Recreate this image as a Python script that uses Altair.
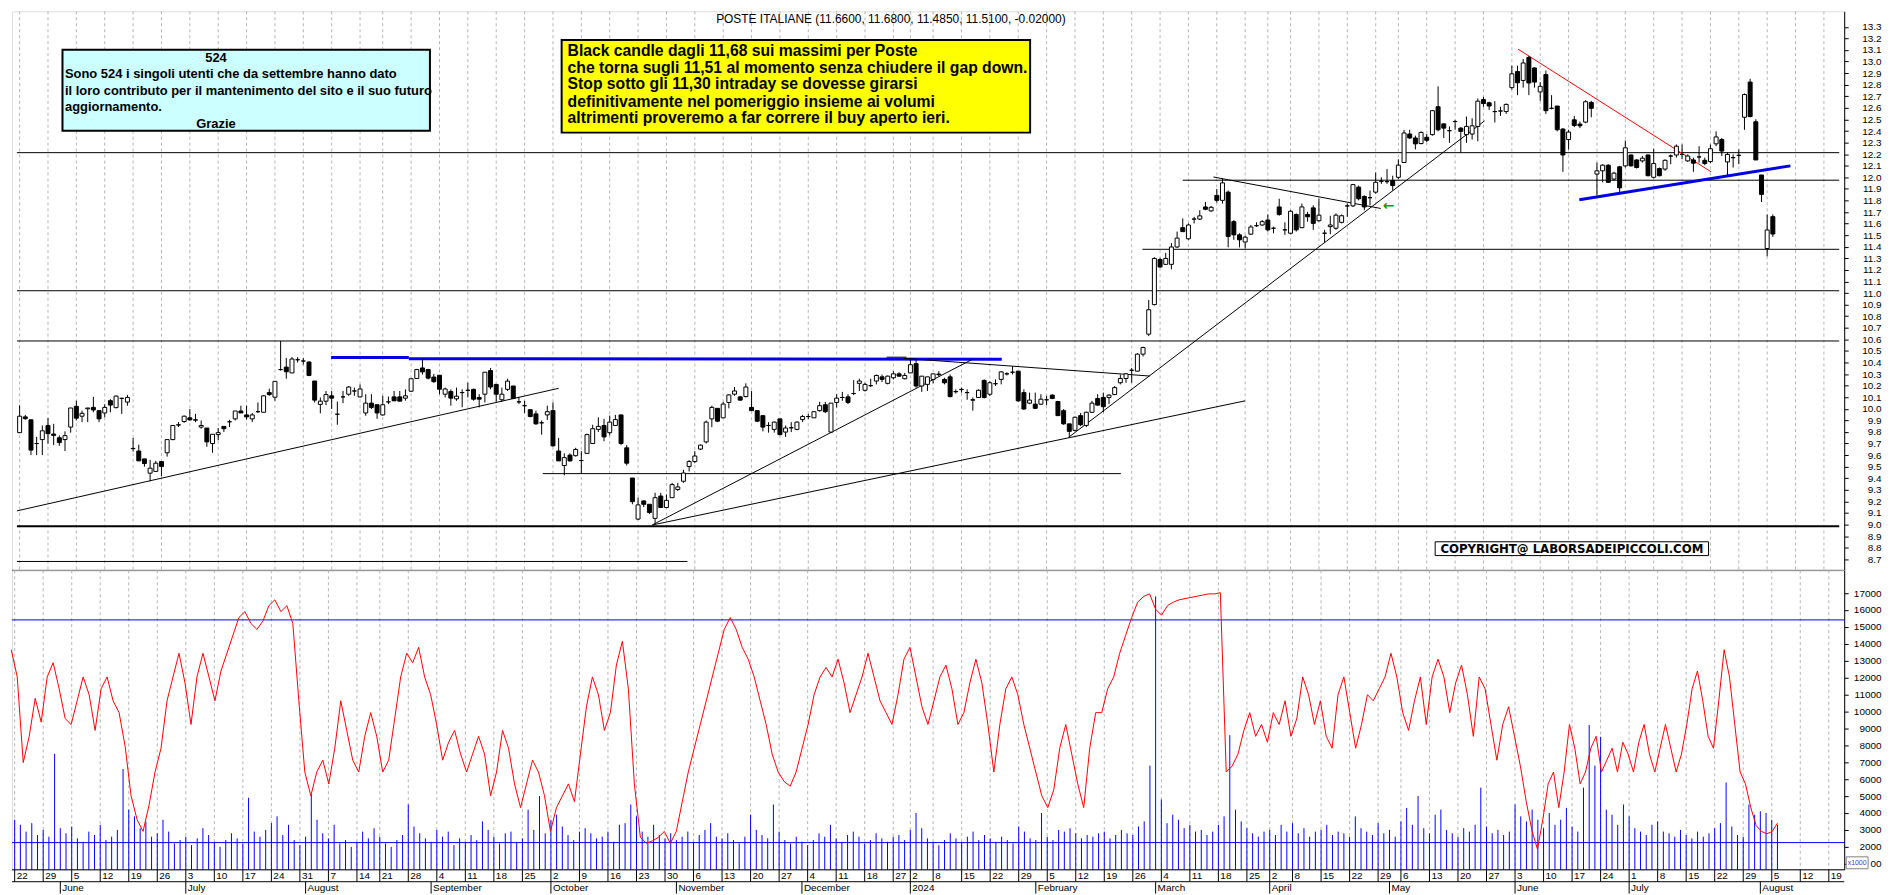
import altair as alt
import numpy as np
import pandas as pd

# ---------------- data ----------------
OPEN = [
 9.794, 9.93, 9.905, 9.70, 9.734, 9.856, 9.782, 9.75, 9.734, 9.842,
 10.021, 9.936, 10.0, 10.012, 9.984, 9.964, 10.07, 10.01, 10.09, 10.058,
 9.658, 9.635, 9.567, 9.444, 9.459, 9.544, 9.62, 9.734, 9.86, 9.89,
 9.922, 9.905, 9.842, 9.834, 9.70, 9.777, 9.848, 9.888, 9.913, 9.981,
 9.947, 9.913, 9.975, 9.97, 10.14, 10.1, 10.339, 10.36, 10.31, 10.424,
 10.413, 10.404, 10.24, 10.038, 10.066, 10.112, 9.953, 10.103, 10.126, 10.154,
 10.103, 9.964, 10.049, 10.035, 9.947, 10.06, 10.103, 10.103, 10.092, 10.152,
 10.262, 10.353, 10.339, 10.274, 10.29, 10.126, 10.149, 10.086, 10.14, 10.16,
 10.168, 10.098, 10.126, 10.33, 10.211, 10.078, 10.168, 10.197, 10.06, 10.027,
 9.992, 9.956, 9.879, 9.947, 9.984, 9.635, 9.51, 9.6, 9.595, 9.553,
 9.615, 9.7, 9.822, 9.856, 9.794, 9.856, 9.947, 9.663, 9.402, 9.047,
 9.204, 9.175, 9.053, 9.246, 9.147, 9.232, 9.303, 9.374, 9.501, 9.544,
 9.652, 9.714, 9.913, 10.004, 9.922, 10.055, 10.126, 10.103, 10.106, 10.012,
 9.984, 9.941, 9.856, 9.822, 9.913, 9.799, 9.836, 9.822, 9.907, 9.933,
 9.922, 9.984, 10.035, 9.799, 10.055, 10.098, 10.103, 10.132, 10.22, 10.16,
 10.2, 10.24, 10.276, 10.22, 10.268, 10.302, 10.26, 10.31, 10.39, 10.197,
 10.211, 10.254, 10.30, 10.254, 10.276, 10.15, 10.168, 10.14, 10.078, 10.098,
 10.245, 10.126, 10.217, 10.254, 10.302, 10.316, 10.325, 10.14, 10.049, 10.04,
 10.04, 10.078, 10.118, 10.063, 9.984, 9.87, 9.814, 9.941, 9.856, 9.97,
 10.089, 10.098, 10.098, 10.123, 10.225, 10.262, 10.333, 10.325, 10.472, 10.645,
 10.9, 11.29, 11.248, 11.248, 11.398, 11.565, 11.469, 11.639, 11.639, 11.744,
 11.71, 11.844, 11.801, 11.872, 11.617, 11.503, 11.441, 11.509, 11.582, 11.588,
 11.631, 11.56, 11.744, 11.546, 11.517, 11.679, 11.565, 11.679, 11.736, 11.625,
 11.517, 11.574, 11.56, 11.611, 11.753, 11.753, 11.915, 11.835, 11.824, 11.872,
 11.966, 11.963, 11.972, 12.0, 12.128, 12.374, 12.34, 12.292, 12.346, 12.369,
 12.61, 12.462, 12.403, 12.482, 12.425, 12.369, 12.374, 12.44, 12.672, 12.644,
 12.568, 12.573, 12.568, 12.775, 12.914, 12.837, 13.036, 12.945, 12.738, 12.888,
 12.596, 12.616, 12.417, 12.326, 12.497, 12.46, 12.477, 12.647, 12.028, 12.056,
 12.105, 11.985, 12.091, 12.099, 12.193, 12.15, 12.142, 12.193, 12.0, 12.076,
 12.071, 12.184, 12.193, 12.198, 12.142, 12.15, 12.176, 12.147, 12.136, 12.289,
 12.326, 12.133, 12.17, 12.19, 12.519, 12.823, 12.48, 12.02, 11.385, 11.66,
]
HIGH = [
 10.03, 9.947, 9.905, 9.757, 9.856, 9.92, 9.87, 9.77, 9.805, 10.007,
 10.07, 9.984, 10.007, 10.103, 9.984, 10.04, 10.083, 10.115, 10.097, 10.12,
 9.748, 9.69, 9.567, 9.558, 9.55, 9.544, 9.734, 9.856, 9.885, 9.942,
 9.998, 9.956, 9.899, 9.834, 9.78, 9.834, 9.848, 9.905, 9.981, 10.027,
 10.027, 9.964, 10.055, 10.118, 10.174, 10.237, 10.586, 10.44, 10.447, 10.447,
 10.438, 10.41, 10.24, 10.098, 10.154, 10.154, 10.063, 10.154, 10.197, 10.183,
 10.211, 10.126, 10.126, 10.035, 10.112, 10.106, 10.154, 10.154, 10.168, 10.26,
 10.345, 10.43, 10.345, 10.302, 10.29, 10.183, 10.168, 10.183, 10.168, 10.225,
 10.174, 10.126, 10.316, 10.353, 10.211, 10.183, 10.26, 10.197, 10.103, 10.069,
 9.998, 9.984, 9.899, 10.027, 10.055, 9.748, 9.615, 9.615, 9.663, 9.635,
 9.785, 9.862, 9.927, 9.913, 9.941, 9.947, 9.947, 9.686, 9.402, 9.232,
 9.209, 9.175, 9.274, 9.274, 9.26, 9.36, 9.36, 9.473, 9.558, 9.635,
 9.692, 9.899, 10.027, 10.004, 10.06, 10.126, 10.188, 10.112, 10.22, 10.154,
 9.984, 9.941, 9.885, 9.891, 9.913, 9.856, 9.885, 9.891, 9.947, 9.956,
 9.975, 10.06, 10.06, 10.049, 10.126, 10.146, 10.126, 10.248, 10.26, 10.225,
 10.26, 10.296, 10.296, 10.288, 10.325, 10.316, 10.31, 10.438, 10.424, 10.282,
 10.276, 10.302, 10.325, 10.268, 10.296, 10.168, 10.183, 10.168, 10.098, 10.168,
 10.254, 10.239, 10.254, 10.325, 10.316, 10.367, 10.325, 10.168, 10.14, 10.14,
 10.126, 10.112, 10.126, 10.069, 9.998, 9.87, 9.933, 9.964, 9.975, 10.069,
 10.126, 10.14, 10.126, 10.197, 10.296, 10.31, 10.353, 10.48, 10.537, 10.941,
 11.31, 11.304, 11.347, 11.432, 11.531, 11.645, 11.602, 11.659, 11.716, 11.787,
 11.753, 11.9, 11.991, 11.886, 11.631, 11.517, 11.497, 11.588, 11.611, 11.631,
 11.679, 11.574, 11.815, 11.611, 11.716, 11.688, 11.773, 11.702, 11.758, 11.815,
 11.546, 11.668, 11.688, 11.679, 11.773, 11.943, 11.929, 11.844, 11.886, 12.042,
 12.0, 12.071, 12.014, 12.156, 12.41, 12.411, 12.36, 12.397, 12.374, 12.582,
 12.786, 12.462, 12.44, 12.496, 12.434, 12.525, 12.51, 12.681, 12.695, 12.653,
 12.658, 12.61, 12.638, 12.965, 12.965, 13.022, 13.05, 12.951, 12.823, 12.922,
 12.71, 12.616, 12.425, 12.411, 12.531, 12.482, 12.667, 12.661, 12.127, 12.113,
 12.113, 12.048, 12.099, 12.318, 12.198, 12.156, 12.184, 12.198, 12.247, 12.085,
 12.156, 12.198, 12.284, 12.284, 12.198, 12.17, 12.269, 12.17, 12.284, 12.397,
 12.34, 12.213, 12.198, 12.241, 12.724, 12.851, 12.502, 12.02, 11.679, 11.68,
]
LOW = [
 9.79, 9.905, 9.60, 9.60, 9.60, 9.70, 9.686, 9.68, 9.635, 9.794,
 9.90, 9.885, 9.885, 9.97, 9.885, 9.927, 9.97, 10.004, 9.956, 10.027,
 9.63, 9.55, 9.50, 9.374, 9.459, 9.416, 9.587, 9.728, 9.842, 9.879,
 9.899, 9.885, 9.828, 9.672, 9.62, 9.728, 9.80, 9.842, 9.899, 9.964,
 9.907, 9.885, 9.964, 9.97, 10.112, 10.07, 10.33, 10.26, 10.31, 10.40,
 10.382, 10.282, 10.055, 9.961, 10.032, 9.998, 9.862, 10.049, 10.112, 10.112,
 10.098, 9.94, 9.998, 9.913, 9.94, 10.04, 10.069, 10.066, 10.07, 10.146,
 10.262, 10.296, 10.254, 10.225, 10.126, 10.098, 10.027, 10.069, 10.013, 10.098,
 10.07, 10.012, 10.055, 10.168, 10.061, 10.061, 10.154, 10.083, 10.04, 9.964,
 9.927, 9.862, 9.777, 9.904, 9.672, 9.55, 9.425, 9.544, 9.587, 9.439,
 9.615, 9.7, 9.80, 9.72, 9.771, 9.856, 9.686, 9.51, 9.175, 9.039,
 9.152, 9.09, 9.005, 9.147, 9.147, 9.232, 9.289, 9.36, 9.459, 9.53,
 9.643, 9.7, 9.842, 9.885, 9.922, 10.004, 10.112, 10.069, 10.098, 9.984,
 9.885, 9.805, 9.794, 9.794, 9.771, 9.757, 9.799, 9.814, 9.885, 9.913,
 9.922, 9.975, 9.964, 9.794, 10.012, 10.069, 10.04, 10.118, 10.154, 10.149,
 10.188, 10.211, 10.231, 10.211, 10.254, 10.276, 10.254, 10.31, 10.183, 10.146,
 10.154, 10.22, 10.282, 10.211, 10.098, 10.132, 10.14, 10.078, 9.984, 10.098,
 10.089, 10.112, 10.197, 10.211, 10.288, 10.296, 10.06, 9.992, 10.04, 9.998,
 10.032, 10.032, 10.083, 9.941, 9.862, 9.757, 9.805, 9.85, 9.842, 9.964,
 10.027, 9.97, 10.04, 10.118, 10.211, 10.225, 10.225, 10.325, 10.452, 10.628,
 10.893, 11.219, 11.242, 11.205, 11.39, 11.526, 11.46, 11.602, 11.631, 11.716,
 11.702, 11.781, 11.773, 11.395, 11.46, 11.395, 11.384, 11.503, 11.571, 11.58,
 11.531, 11.517, 11.668, 11.503, 11.509, 11.531, 11.56, 11.616, 11.546, 11.617,
 11.432, 11.509, 11.546, 11.602, 11.659, 11.744, 11.801, 11.716, 11.758, 11.858,
 11.943, 11.943, 11.886, 11.986, 12.128, 12.332, 12.241, 12.284, 12.303, 12.36,
 12.397, 12.34, 12.298, 12.411, 12.213, 12.298, 12.326, 12.312, 12.61, 12.582,
 12.474, 12.531, 12.548, 12.758, 12.71, 12.775, 12.71, 12.775, 12.661, 12.548,
 12.587, 12.397, 12.048, 12.241, 12.434, 12.425, 12.468, 12.519, 11.843, 11.957,
 11.951, 11.971, 11.872, 12.085, 12.093, 12.076, 12.127, 12.008, 11.991, 12.008,
 12.057, 12.113, 12.17, 12.156, 12.133, 12.048, 12.127, 12.105, 12.122, 12.269,
 12.184, 12.014, 12.085, 12.113, 12.411, 12.519, 12.15, 11.787, 11.318, 11.485,
]
CLOSE = [
 9.936, 9.915, 9.643, 9.70, 9.81, 9.785, 9.77, 9.708, 9.768, 10.007,
 9.919, 9.961, 10.007, 9.99, 9.913, 10.012, 10.032, 10.11, 10.09, 10.098,
 9.656, 9.55, 9.527, 9.487, 9.53, 9.501, 9.734, 9.856, 9.862, 9.936,
 9.904, 9.902, 9.856, 9.714, 9.78, 9.794, 9.828, 9.888, 9.981, 9.964,
 9.93, 9.947, 9.975, 10.112, 10.123, 10.237, 10.339, 10.32, 10.43, 10.424,
 10.413, 10.288, 10.075, 10.066, 10.123, 10.092, 9.953, 10.103, 10.188, 10.154,
 10.171, 10.049, 10.012, 9.964, 10.035, 10.06, 10.069, 10.066, 10.112, 10.26,
 10.339, 10.319, 10.265, 10.234, 10.169, 10.171, 10.092, 10.109, 10.14, 10.16,
 10.083, 10.083, 10.316, 10.188, 10.126, 10.126, 10.239, 10.089, 10.06, 10.027,
 9.933, 9.87, 9.879, 9.975, 9.68, 9.55, 9.578, 9.55, 9.649, 9.553,
 9.777, 9.828, 9.848, 9.757, 9.885, 9.907, 9.7, 9.53, 9.198, 9.17,
 9.175, 9.104, 9.232, 9.147, 9.209, 9.345, 9.325, 9.445, 9.544, 9.592,
 9.686, 9.885, 10.012, 9.893, 10.041, 10.12, 10.154, 10.075, 10.188, 9.984,
 9.893, 9.842, 9.856, 9.885, 9.777, 9.834, 9.836, 9.885, 9.933, 9.933,
 9.975, 10.027, 9.975, 10.049, 10.092, 10.098, 10.055, 10.132, 10.24, 10.211,
 10.2, 10.288, 10.254, 10.282, 10.302, 10.282, 10.288, 10.381, 10.197, 10.282,
 10.276, 10.302, 10.295, 10.225, 10.106, 10.147, 10.166, 10.14, 10.075, 10.16,
 10.098, 10.225, 10.217, 10.319, 10.302, 10.316, 10.069, 9.998, 10.075, 10.004,
 10.083, 10.078, 10.089, 9.941, 9.87, 9.805, 9.927, 9.862, 9.97, 10.049,
 10.032, 10.018, 10.118, 10.183, 10.262, 10.302, 10.333, 10.472, 10.529, 10.856,
 11.299, 11.225, 11.299, 11.398, 11.475, 11.531, 11.588, 11.639, 11.667, 11.724,
 11.741, 11.801, 11.952, 11.489, 11.503, 11.46, 11.483, 11.571, 11.582, 11.617,
 11.546, 11.56, 11.679, 11.546, 11.707, 11.546, 11.744, 11.659, 11.602, 11.673,
 11.517, 11.588, 11.673, 11.668, 11.753, 11.937, 11.815, 11.744, 11.824, 11.957,
 11.966, 11.963, 11.929, 12.105, 12.383, 12.34, 12.289, 12.388, 12.32, 12.576,
 12.411, 12.425, 12.403, 12.482, 12.397, 12.44, 12.445, 12.658, 12.638, 12.616,
 12.568, 12.573, 12.63, 12.894, 12.817, 12.988, 12.815, 12.823, 12.786, 12.576,
 12.596, 12.411, 12.193, 12.391, 12.448, 12.445, 12.653, 12.596, 12.056, 12.105,
 11.957, 12.036, 11.909, 12.255, 12.099, 12.085, 12.165, 12.014, 12.119, 12.014,
 12.147, 12.184, 12.269, 12.198, 12.184, 12.122, 12.176, 12.119, 12.247, 12.349,
 12.227, 12.198, 12.17, 12.19, 12.715, 12.525, 12.15, 11.852, 11.545, 11.51,
]
VOLUME = [
 3600, 3300, 2900, 3400, 2700, 3000, 2600, 7500, 3100, 2800,
 3200, 2500, 2300, 2900, 2700, 3300, 2400, 2600, 3000, 6600,
 4200, 3800, 3100, 3500, 2600, 2800, 3600, 2900, 2200, 2400,
 2600, 2100, 2500, 3100, 2700, 2300, 2000, 2400, 2800, 2500,
 2200, 4900, 2900, 2600, 3000, 3400, 3800, 2700, 3300, 2400,
 2100, 2600, 5100, 3600, 2800, 2500, 3300, 2200, 2400, 2000,
 2300, 2900, 2500, 3100, 2600, 2200, 2000, 2400, 2700, 4500,
 3200, 2800, 2500, 2300, 3000, 2600, 2900, 2100, 2500, 2300,
 2700, 2400, 3500, 3000, 2600, 2200, 2800, 2900, 2300, 2500,
 4200, 3000, 5000, 2800, 3600, 3900, 3200, 2700, 2400, 2900,
 3100, 2800, 2500, 2600, 2900, 2300, 3300, 3400, 4500, 3800,
 2900, 2600, 3300, 2700, 2500, 2800, 2400, 2600, 2900, 2300,
 2700, 3000, 3400, 2600, 2500, 2800, 2400, 2200, 2600, 3900,
 3000, 2700, 2500, 4500, 2900, 2400, 2200, 2600, 2300, 2100,
 2400, 2800, 2600, 3300, 2500, 2300, 2700, 2900, 2600, 2200,
 2400, 2800, 2500, 2300, 2600, 2700, 2400, 3000, 4000, 3100,
 2500, 2300, 2100, 2400, 2800, 2500, 2300, 2600, 2900, 2400,
 2700, 2500, 2300, 2600, 2400, 2200, 3200, 2900, 2500, 2400,
 4000, 2600, 2400, 3000, 2900, 3100, 2800, 2500, 2700, 2600,
 2800, 2900, 2500, 2700, 3000, 2800, 2700, 3200, 3500, 6800,
 16800, 4800, 3400, 3900, 3600, 3100, 3300, 2900, 3000, 2700,
 2900, 3300, 3800, 8600, 4200, 3500, 3100, 2800, 2600, 2900,
 3000, 2700, 3300, 2900, 3400, 2800, 3100, 2600, 2900, 3000,
 3300, 2700, 2900, 2800, 2600, 3800, 3100, 2900, 2700, 3400,
 2800, 3000, 2600, 3500, 4300, 3300, 5000, 3100, 2800, 3900,
 4200, 3000, 2800, 2600, 3100, 2900, 3300, 5500, 3200, 2800,
 3000, 2700, 2900, 4500, 3800, 3500, 4200, 3600, 3100, 4000,
 3300, 3600, 4300, 3200, 2900, 5500, 9200, 6800, 8500, 4200,
 3900, 3300, 4500, 3800, 3100, 2900, 2700, 3300, 3500, 2900,
 2800, 2600, 3000, 2700, 2500, 2900, 2600, 2800, 3100, 3400,
 5800, 3200, 2700, 2600, 4500, 3900, 4100, 4000, 3600, 3300,
]
# red indicator line, read at even steps along the lower panel
RED = [
 13650, 12040, 6980, 8530, 10780, 9370, 12040, 12880, 11340, 9580,
 9230, 10630, 12040, 10990, 8880, 11340, 12040, 10630, 9930, 7970,
 5020, 3610, 2910, 4460, 6420, 7830, 10630, 12040, 13440, 11690,
 9230, 12040, 13440, 12040, 10630, 12390, 13440, 14500, 15550, 15900,
 15200, 14850, 15340, 16250, 16600, 15900, 16250, 15200, 10630, 6420,
 5020, 6420, 7120, 5720, 7830, 10630, 8880, 7120, 6420, 8530,
 9930, 8530, 6420, 7120, 9580, 12040, 13440, 12880, 13790, 12040,
 10990, 9230, 7120, 8180, 8880, 7480, 6420, 7480, 8530, 7480,
 5020, 6420, 8880, 7830, 5720, 4320, 5720, 7120, 6420, 5020,
 2910, 4320, 5020, 5720, 4670, 7480, 10280, 12040, 10990, 8880,
 9930, 12740, 14150, 11340, 5720, 2560, 2210, 2350, 2560, 2910,
 2210, 2910, 4670, 6420, 7830, 9230, 10630, 12040, 13440, 14850,
 15550, 14850, 13790, 13090, 12040, 10630, 9230, 7480, 6420, 5860,
 5580, 6420, 7830, 9230, 10990, 12040, 12600, 12040, 13090, 11690,
 9930, 10990, 12040, 13440, 12040, 10630, 9930, 9230, 10990, 13090,
 13790, 12040, 10280, 9230, 10630, 12040, 12740, 11340, 9230, 9930,
 11690, 13090, 11690, 9230, 6420, 9230, 11340, 12040, 10990, 9230,
 7830, 6420, 5020, 4320, 5370, 7830, 9230, 7480, 5720, 4320,
 7830, 9930, 9930, 11340, 12040, 13440, 14500, 15550, 16460, 16800,
 16950, 16040, 15690, 16250, 16460, 16600, 16670, 16740, 16810, 16880,
 16950, 16950, 17020, 6420, 6770, 7480, 8880, 9930, 8530, 9230,
 8180, 9930, 9230, 10630, 8530, 9580, 12040, 10990, 9230, 10630,
 8530, 7830, 10990, 12040, 9930, 7830, 9230, 10990, 10630, 11340,
 12040, 13440, 12040, 9930, 8880, 10630, 12040, 9230, 12040, 13090,
 12040, 9930, 11690, 12740, 10990, 8530, 12040, 11340, 9230, 7120,
 9230, 10280, 8530, 6770, 4670, 2910, 1860, 3610, 5720, 6420,
 4320, 6420, 9230, 7830, 5720, 6420, 7830, 8530, 6420, 7120,
 7830, 6420, 8180, 7480, 6420, 8180, 9230, 7480, 6420, 7830,
 9230, 7830, 6420, 7480, 9230, 11340, 12390, 10630, 8530, 7830,
 10630, 13650, 12040, 9230, 6420, 5720, 4320, 3260, 2910, 2770,
 2900, 3400,
]
# where readings of RED fall on the trading-day axis (reading number -> day index)
RED_ANCHOR_K = [0, 191, 255, 301]
RED_ANCHOR_I = [-0.6, 200, 266, 309]

HOLIDAYS = ["2023-08-15", "2023-12-25", "2023-12-26", "2024-01-01",
            "2024-03-29", "2024-04-01", "2024-05-01"]
MONTH_NAMES = ["2024", "February", "March", "April", "May", "June", "July",
               "August", "September", "October", "November", "December"]

PRICE_LABELS = [8.7, 8.8, 8.9, 9.0, 9.1, 9.2, 9.3, 9.4, 9.5, 9.6, 9.7, 9.8, 9.9,
                10.0, 10.1, 10.2, 10.3, 10.4, 10.5, 10.6, 10.7, 10.8, 10.9, 11.0,
                11.1, 11.2, 11.3, 11.4, 11.5, 11.6, 11.7, 11.8, 11.9, 12.0, 12.1,
                12.2, 12.3, 12.4, 12.5, 12.6, 12.7, 12.8, 12.9, 13.0, 13.1, 13.2, 13.3]
VOL_LABELS = [1000, 2000, 3000, 4000, 5000, 6000, 7000, 8000, 9000, 10000,
              11000, 12000, 13000, 14000, 15000, 16000, 17000]
VOL_LEVELS = [2250, 15411]

HLINES = [(-0.47, 320.7, 12.213, 1), (205.0, 320.7, 11.975, 1), (197.9, 320.7, 11.378, 1),
          (-0.47, 320.7, 11.02, 1), (-0.47, 320.7, 10.586, 1), (92.2, 194.1, 9.44, 1),
          (-0.47, 320.7, 8.985, 2), (-0.47, 117.7, 8.681, 1)]
TLINES = [(-0.47, 9.118, 95.0, 10.177, "#000000", 1),
          (54.9, 10.444, 68.6, 10.444, "#0000e6", 3),
          (68.6, 10.433, 173.1, 10.428, "#0000e6", 3),
          (152.8, 10.446, 156.3, 10.446, "#000000", 1),
          (111.5, 8.996, 167.9, 10.427, "#000000", 1),
          (111.5, 8.996, 216.0, 10.069, "#000000", 1),
          (155.8, 10.436, 199.2, 10.283, "#000000", 1),
          (184.9, 9.754, 258.2, 12.488, "#000000", 1),
          (210.4, 12.003, 239.9, 11.731, "#000000", 1),
          (264.1, 13.107, 298.1, 12.048, "#ff0000", 1),
          (274.9, 11.807, 312.1, 12.099, "#0000e6", 3)]

BOX1_LINES = ["Sono 524 i singoli utenti che da settembre hanno dato",
              "il loro contributo per il mantenimento del sito e il suo futuro",
              "aggiornamento."]
BOX2_LINES = ["Black candle dagli 11,68 sui massimi per Poste",
              "che torna sugli 11,51 al momento senza chiudere il gap down.",
              "Stop sotto gli 11,30 intraday se dovesse girarsi",
              "definitivamente nel pomeriggio insieme ai volumi",
              "altrimenti proveremo a far correre il buy aperto ieri."]
TITLE = "POSTE ITALIANE (11.6600, 11.6800, 11.4850, 11.5100, -0.02000)"

# ---------------- layout ----------------
W, H1, H2 = 1842, 562, 301
SX, SY = W / 1850.0, H1 / 567.0
XDOM = [-0.47, 320.7]
PDOM = [8.604, 13.434]
VDOM = [644, 18339]
FONT = "Liberation Sans"


def bx(v):
    return v * SX


def by(v):
    return v * SY


hol = set(pd.to_datetime(HOLIDAYS))
slots = [d for d in pd.bdate_range("2023-05-22", "2024-08-23") if d not in hol]
week_rows, month_rows = [], []
for k, d in enumerate(slots):
    if k == 0 or d.isocalendar()[1] != slots[k - 1].isocalendar()[1]:
        week_rows.append({"i": k, "lab": str(d.day)})
    if k > 0 and d.month != slots[k - 1].month:
        month_rows.append({"i": k, "lab": MONTH_NAMES[d.month - 1]})
weeks = pd.DataFrame(week_rows)
months = pd.DataFrame(month_rows)

n = len(OPEN)
candles = pd.DataFrame({"i": list(range(n)), "o": OPEN, "h": HIGH, "l": LOW, "c": CLOSE,
                        "v": VOLUME})
candles["fill"] = ["#ffffff" if c >= o else "#000000" for o, c in zip(OPEN, CLOSE)]
red = pd.DataFrame({"i": np.interp(np.arange(len(RED)), RED_ANCHOR_K, RED_ANCHOR_I),
                    "v": RED})

hl = pd.DataFrame([{"i1": a, "i2": b, "p": p, "w": w} for a, b, p, w in HLINES])
tl = pd.DataFrame([{"i1": a, "p1": b, "i2": c, "p2": d, "col": e, "w": f}
                   for a, b, c, d, e, f in TLINES])
one = pd.DataFrame({"k": [0]})

XS = alt.Scale(domain=XDOM, nice=False, zero=False)
PS = alt.Scale(domain=PDOM, nice=False, zero=False)
VS = alt.Scale(domain=VDOM, nice=False, zero=False)
PAXIS = alt.Axis(orient="right", values=PRICE_LABELS, format=".1f", title=None, grid=False,
                 tickSize=4, tickColor="black", domainColor="black",
                 labelAlign="right", labelPadding=33, labelFont=FONT, labelFontSize=10,
                 labelColor="black", labelOverlap=False, labelBaseline="middle")
VAXIS = alt.Axis(orient="right", values=VOL_LABELS, title=None, grid=False,
                 labelExpr="datum.value == 1000 ? '00' : format(datum.value, 'd')",
                 tickSize=4, tickColor="black", domainColor="black",
                 labelAlign="right", labelPadding=33, labelFont=FONT, labelFontSize=10,
                 labelColor="black", labelOverlap=False, labelBaseline="middle")


def xq(f):
    return alt.X(f, scale=XS, axis=None)


def yp(f):
    return alt.Y(f, scale=PS, axis=PAXIS)


def yv(f):
    return alt.Y(f, scale=VS, axis=VAXIS)


grid_top = alt.Chart(weeks).mark_rule(color="#b4b4b4", strokeDash=[3, 3], strokeWidth=1).encode(
    x=xq("i:Q"))
hlines = alt.Chart(hl).mark_rule(color="black").encode(
    x=xq("i1:Q"), x2="i2:Q", y=yp("p:Q"), strokeWidth=alt.StrokeWidth("w:Q", scale=None))
tlines = alt.Chart(tl).mark_rule().encode(
    x=xq("i1:Q"), x2="i2:Q", y=yp("p1:Q"), y2="p2:Q", color=alt.Color("col:N", scale=None),
    strokeWidth=alt.StrokeWidth("w:Q", scale=None))
wicks = alt.Chart(candles).mark_rule(color="black", strokeWidth=1).encode(
    x=xq("i:Q"), y=yp("l:Q"), y2="h:Q")
bodies = alt.Chart(candles).mark_bar(size=4, stroke="black", strokeWidth=1).encode(
    x=xq("i:Q"), y=yp("o:Q"), y2="c:Q", fill=alt.Fill("fill:N", scale=None))
bottom_border = alt.Chart(one).mark_rule(color="black").encode(
    x=alt.value(0), x2=alt.value(W), y=alt.value(H1))


def rect(x1, y1, x2, y2, fill, sw=2):
    return alt.Chart(one).mark_rect(fill=fill, stroke="black", strokeWidth=sw).encode(
        x=alt.value(bx(x1)), x2=alt.value(bx(x2)), y=alt.value(by(y1)), y2=alt.value(by(y2)))


def txt(s, x, y, size, bold=True, align="left", font=FONT, color="black"):
    return alt.Chart(one).mark_text(text=s, align=align, baseline="middle", fontSize=size,
                                    fontWeight="bold" if bold else "normal", font=font,
                                    color=color).encode(x=alt.value(bx(x)), y=alt.value(by(y)))


ann = [rect(51, 39, 422, 121, "#ccffff"),
       txt("524", 206, 47.5, 13, align="center"),
       txt(BOX1_LINES[0], 53.5, 64, 13),
       txt(BOX1_LINES[1], 53.5, 81, 13),
       txt(BOX1_LINES[2], 53.5, 97.5, 13),
       txt("Grazie", 206, 114, 13, align="center"),
       rect(555, 29, 1028, 123, "#ffff00"),
       txt(BOX2_LINES[0], 561, 40, 15.8),
       txt(BOX2_LINES[1], 561, 57, 15.8),
       txt(BOX2_LINES[2], 561, 74, 15.8),
       txt(BOX2_LINES[3], 561, 91.5, 15.8),
       txt(BOX2_LINES[4], 561, 108.5, 15.8),
       txt(TITLE, 711, 8, 12, bold=False),
       rect(1437, 538, 1713, 552, "#ffffff", sw=1),
       txt("COPYRIGHT@ LABORSADEIPICCOLI.COM", 1575, 545, 11.8, align="center",
           font="DejaVu Sans"),
       txt("\u2190", 1384, 197, 14, font="DejaVu Sans", color="#00a000")]

top = alt.layer(grid_top, hlines, tlines, wicks, bodies, bottom_border, *ann).properties(
    width=W, height=H1)

# ---------------- volume panel ----------------
grid_bot = alt.Chart(weeks).mark_rule(color="#b4b4b4", strokeDash=[3, 3], strokeWidth=1).encode(
    x=xq("i:Q"))
vbars = alt.Chart(candles).mark_rule(color="#0000ff", strokeWidth=1).encode(
    x=xq("i:Q"), y=yv("v:Q"), y2=alt.value(H2))
vlev = alt.Chart(pd.DataFrame({"v": VOL_LEVELS})).mark_rule(color="#0000ff", strokeWidth=1).encode(
    y=yv("v:Q"))
redline = alt.Chart(red).mark_line(color="#ff0000", strokeWidth=1).encode(
    x=xq("i:Q"), y=yv("v:Q"))

line_a = alt.Chart(one).mark_rule(color="black").encode(
    x=alt.value(0), x2=alt.value(W), y=alt.value(H2))
line_b = alt.Chart(one).mark_rule(color="black").encode(
    x=alt.value(0), x2=alt.value(W), y=alt.value(H2 + 12))
wk_sep = alt.Chart(weeks).mark_rule(color="black").encode(
    x=xq("i:Q"), y=alt.value(H2), y2=alt.value(H2 + 12))
mo_sep = alt.Chart(months).mark_rule(color="black").encode(
    x=xq("i:Q"), y=alt.value(H2 + 12), y2=alt.value(H2 + 24))
wk_lab = alt.Chart(weeks).mark_text(align="left", baseline="middle", dx=2, fontSize=10,
                                    font=FONT, color="black").encode(
    x=xq("i:Q"), y=alt.value(H2 + 6.5), text="lab:N")
mo_lab = alt.Chart(months).mark_text(align="left", baseline="middle", dx=2, fontSize=10,
                                     font=FONT, color="black").encode(
    x=xq("i:Q"), y=alt.value(H2 + 18.5), text="lab:N")
x1000_box = alt.Chart(one).mark_rect(fill="white", stroke="#808080", strokeWidth=1).encode(
    x=alt.value(W + 2), x2=alt.value(W + 24), y=alt.value(H2 - 13), y2=alt.value(H2 - 1))
x1000_txt = alt.Chart(one).mark_text(text="x1000", fontSize=7, font=FONT, color="#4040c0",
                                     align="center", baseline="middle").encode(
    x=alt.value(W + 13), y=alt.value(H2 - 7))

bottom = alt.layer(grid_bot, vbars, vlev, redline, line_a, line_b, wk_sep, mo_sep,
                   wk_lab, mo_lab, x1000_box, x1000_txt).properties(width=W, height=H2)

chart = alt.vconcat(top, bottom, spacing=0, bounds="flush").properties(padding=0).configure_view(
    stroke=None).configure(background="white")

chart.save("out.html", embed_options={"renderer": "svg", "actions": False})
